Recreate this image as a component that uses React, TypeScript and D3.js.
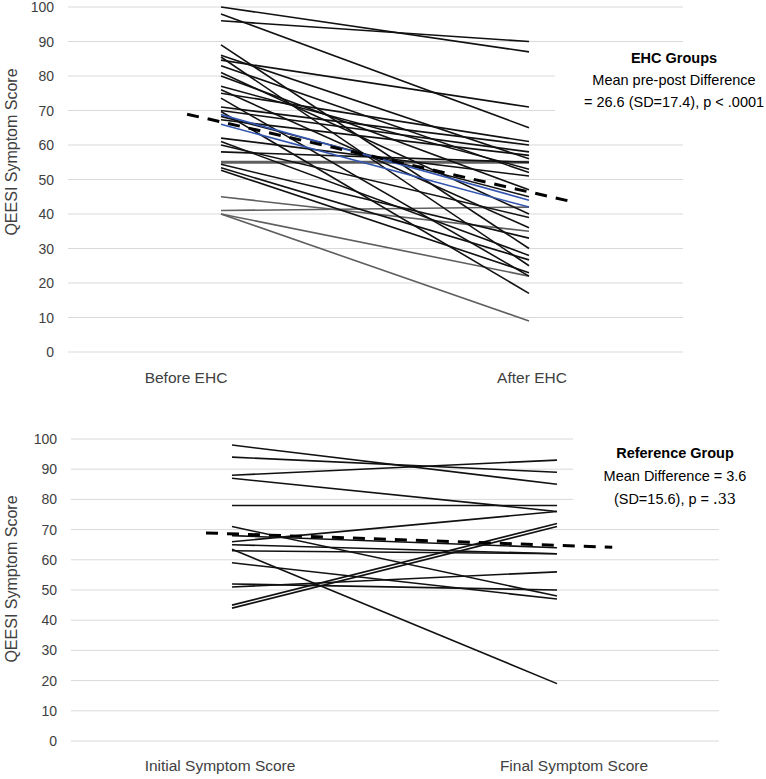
import React from "react";
import * as d3 from "d3";

// ---------- DATA ----------
const yTicks = [0, 10, 20, 30, 40, 50, 60, 70, 80, 90, 100];

// Top panel (EHC groups)
const ehcBefore = [100, 98, 96, 89, 86, 85.5, 84.6, 83, 81, 80, 77, 76, 75, 73.6, 71, 70, 69.7, 68.8, 66, 68.3, 67.3, 62, 61, 60, 58, 55, 54.4, 53.4, 52.7, 45, 41, 40, 40];
const ehcAfter = [87, 65, 90, 30, 56, 25, 71, 52, 40, 47, 53, 36, 61, 22, 60, 58, 17, 44, 42, 45, 57, 51, 28, 39, 55, 55, 33, 26.7, 23, 35, 42, 22, 9];
const ehcKind = ["b", "b", "b", "b", "b", "b", "b", "b", "b", "b", "b", "b", "b", "b", "b", "b", "b", "blue", "blue", "b", "b", "b", "b", "b", "b", "gthick", "b", "b", "b", "g", "g", "g", "g"];
const ehcTrend = [66.7, 46.4]; // mean trend at the two time points
const ehcTrendExt = [-0.11, 1.13];
const ehcCats = ["Before EHC", "After EHC"];

// Bottom panel (Reference group)
const refInitial = [98, 94, 88, 87, 78, 71, 68, 66, 65, 63.5, 63, 59, 52, 51, 45, 44];
const refFinal = [85, 89, 93, 76, 78, 48, 64, 76, 62, 19, 62, 47, 50, 56, 72, 71];
const refTrend = [68.6, 64.8];
const refTrendExt = [-0.08, 1.17];
const refCats = ["Initial Symptom Score", "Final Symptom Score"];

const yTitle = "QEESI Symptom Score";

const FONT = "'Liberation Sans', Arial, sans-serif";
const TXT = "#404040";

function Panel(props: {
  top: number; bottom: number; gridX0: number; gridX1: number; cx0: number; cx1: number;
  before: number[]; after: number[]; kinds?: string[]; trend: number[]; trendExt: number[];
  cats: string[]; catX: number[]; catY: number; tickX: number; titleY: number;
  box: { x: number; y0: number; y1: number };
}) {
  const p = props;
  const y = d3.scaleLinear().domain([0, 100]).range([p.bottom, p.top]);
  const x = d3.scaleLinear().domain([0, 1]).range([p.cx0, p.cx1]);
  const slope = p.trend[1] - p.trend[0];
  const tv = (t: number) => p.trend[0] + slope * t;
  const colorOf = (k: string) => (k === "blue" ? "#3355b0" : k === "g" || k === "gthick" ? "#5f5f5f" : "#111");
  const order = p.before.map((_, i) => i).sort((a, b) => {
    const ka = p.kinds ? p.kinds[a] : "b";
    const kb = p.kinds ? p.kinds[b] : "b";
    const r = (k: string) => (k === "g" || k === "gthick" ? 0 : k === "blue" ? 2 : 1);
    return r(ka) - r(kb);
  });
  return (
    <g>
      {yTicks.map((t) => (
        <g key={t}>
          <line x1={p.gridX0} x2={p.gridX1} y1={y(t)} y2={y(t)} stroke="#d9d9d9" strokeWidth={1} />
          <text x={p.tickX} y={y(t)} dy="0.36em" textAnchor="end" fontSize={14} fill={TXT} fontFamily={FONT}>{t}</text>
        </g>
      ))}
      <rect x={p.box.x} y={p.box.y0} width={766 - p.box.x} height={p.box.y1 - p.box.y0} fill="#fff" />
      {order.map((i) => {
        const k = p.kinds ? p.kinds[i] : "b";
        return (
          <line key={i} x1={x(0)} x2={x(1)} y1={y(p.before[i])} y2={y(p.after[i])}
            stroke={colorOf(k)} strokeWidth={k === "gthick" ? 3 : 1.6} />
        );
      })}
      <line x1={x(p.trendExt[0])} x2={x(p.trendExt[1])} y1={y(tv(p.trendExt[0]))} y2={y(tv(p.trendExt[1]))}
        stroke="#000" strokeWidth={3} strokeDasharray="12,9" />
      {p.cats.map((c, i) => (
        <text key={c} x={p.catX[i]} y={p.catY} textAnchor="middle" fontSize={15.5} fill={TXT} fontFamily={FONT}>{c}</text>
      ))}
      <text transform={`translate(17,${p.titleY}) rotate(-90)`} textAnchor="middle" fontSize={16} fill={TXT} fontFamily={FONT}>{yTitle}</text>
    </g>
  );
}

export default function App() {
  return (
    <svg width={766} height={779} style={{ position: "absolute", left: 0, top: 0, background: "#fff" }}>
      <rect width={766} height={779} fill="#fff" />
      <Panel top={7} bottom={352} gridX0={68} gridX1={683} cx0={221} cx1={529}
        before={ehcBefore} after={ehcAfter} kinds={ehcKind} trend={ehcTrend} trendExt={ehcTrendExt}
        cats={ehcCats} catX={[186, 532]} catY={383} tickX={54} titleY={152}
        box={{ x: 555, y0: 48, y1: 124 }} />
      <Panel top={439} bottom={741} gridX0={71} gridX1={719} cx0={232} cx1={557}
        before={refInitial} after={refFinal} trend={refTrend} trendExt={refTrendExt}
        cats={refCats} catX={[220, 574]} catY={771} tickX={57} titleY={579}
        box={{ x: 573, y0: 432, y1: 512 }} />
      <g fontFamily={FONT} fontSize={14.5} fill="#000" textAnchor="middle">
        <text x={674} y={63} fontWeight="bold">EHC Groups</text>
        <text x={674} y={85}>Mean pre-post Difference</text>
        <text x={674} y={107}>= 26.6 (SD=17.4), p &lt; .0001</text>
        <text x={675} y={458} fontWeight="bold">Reference Group</text>
        <text x={675} y={481}>Mean Difference = 3.6</text>
        <text x={675} y={504}>(SD=15.6), p = <tspan fontFamily="'DejaVu Serif', serif">.33</tspan></text>
      </g>
    </svg>
  );
}
